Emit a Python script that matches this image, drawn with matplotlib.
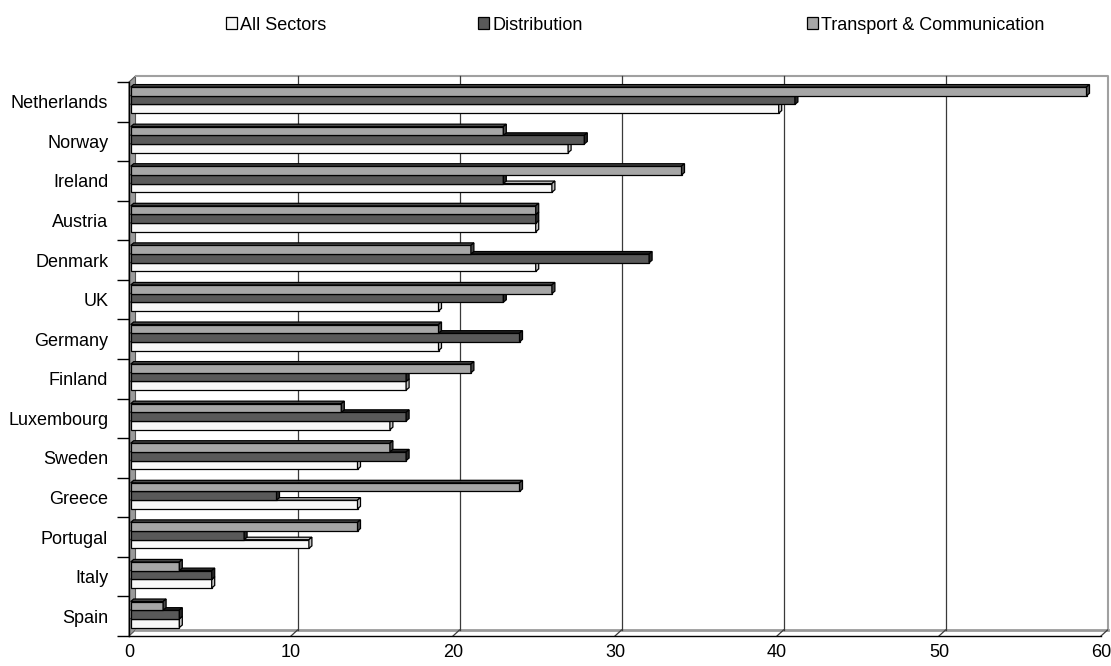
import numpy as np
import matplotlib
matplotlib.use("Agg")
import matplotlib.pyplot as plt
from matplotlib.patches import Polygon, Patch

plt.rcParams['font.family'] = ['Liberation Sans', 'DejaVu Sans']

countries = ["Netherlands", "Norway", "Ireland", "Austria", "Denmark", "UK", "Germany",
             "Finland", "Luxembourg", "Sweden", "Greece", "Portugal", "Italy", "Spain"]
all_sectors = [40, 27, 26, 25, 25, 19, 19, 17, 16, 14, 14, 11, 5, 3]
distribution = [41, 28, 23, 25, 32, 23, 24, 17, 17, 17, 9, 7, 5, 3]
transport = [59, 23, 34, 25, 21, 26, 19, 21, 13, 16, 24, 14, 3, 2]

series = [
    ("All Sectors", all_sectors, "#f8f8f8", "#c4c4c4"),
    ("Distribution", distribution, "#595959", "#262626"),
    ("Transport & Communication", transport, "#a6a6a6", "#4a4a4a"),
]

W, H = 1111, 666
fig = plt.figure(figsize=(W / 100, H / 100), dpi=100)
# front plane of the 3d box
ax = fig.add_axes([129 / W, 30 / H, 972 / W, 554 / H])
xmax = 60
n = len(countries)
ax.set_xlim(0, xmax)
ax.set_ylim(-0.5, n - 0.5)

px_x = 972 / xmax          # pixels per x unit
px_y = 554 / n             # pixels per category
wdx, wdy = 6.5 / px_x, 6.0 / px_y      # wall depth
ox, oy = 1.7 / px_x, 1.7 / px_y        # bar front face offset
bdx, bdy = 3.0 / px_x, 2.5 / px_y      # bar depth
h = 0.219

y0, y1 = -0.5, n - 0.5

# left wall and floor
ax.add_patch(Polygon([(0, y0), (0, y1), (wdx, y1 + wdy), (wdx, y0 + wdy)],
                     closed=True, facecolor="#9a9a9a", edgecolor="#555555",
                     lw=0.8, clip_on=False, zorder=1))
ax.plot([wdx, xmax + wdx], [y0 + wdy, y0 + wdy], color="#9a9a9a", lw=2.0,
        clip_on=False, zorder=1)
# back wall border
ax.plot([wdx, xmax + wdx, xmax + wdx], [y1 + wdy, y1 + wdy, y0 + wdy],
        color="#a0a0a0", lw=1.5, clip_on=False, zorder=1)

# gridlines on the back wall, with the slanted floor joins
for gx in range(10, xmax + 1, 10):
    if gx < xmax:
        ax.plot([gx + wdx, gx + wdx], [y0 + wdy, y1 + wdy], color="#3a3a3a",
                lw=0.9, clip_on=False, zorder=1.5)
    ax.plot([gx, gx + wdx], [y0, y0 + wdy], color="#3a3a3a", lw=0.9,
            clip_on=False, zorder=1.5)

ypos = np.arange(n)[::-1]

# bars: bottom one first so upper bars hide its top face
for k, (name, vals, face, shade) in enumerate(series):
    yb = ypos - 1.5 * h + k * h + oy
    ax.barh(yb, vals, height=h, left=ox, align="edge", color=face,
            edgecolor="black", lw=0.9, zorder=3 + k)
    for v, b in zip(vals, yb):
        t = b + h
        top = [(ox, t), (ox + bdx, t + bdy), (v + ox + bdx, t + bdy), (v + ox, t)]
        side = [(v + ox, b), (v + ox + bdx, b + bdy), (v + ox + bdx, t + bdy), (v + ox, t)]
        ax.add_patch(Polygon(top, closed=True, facecolor=shade, edgecolor="black",
                             lw=0.9, zorder=3 + k, clip_on=False))
        ax.add_patch(Polygon(side, closed=True, facecolor=shade, edgecolor="black",
                             lw=0.9, zorder=3 + k, clip_on=False))

for s in ["top", "right"]:
    ax.spines[s].set_visible(False)
for s in ["left", "bottom"]:
    ax.spines[s].set_color("black")
    ax.spines[s].set_linewidth(1.0)
    ax.spines[s].set_zorder(2)

ax.set_xticks(range(0, xmax + 1, 10))
ax.tick_params(axis="x", length=0, pad=6, labelsize=13)
ax.set_yticks(np.arange(-0.5, n, 1.0))
ax.set_yticklabels([])
ax.set_yticks(ypos, minor=True)
ax.set_yticklabels(countries, minor=True)
ax.tick_params(axis="y", which="major", length=9, width=1.0, direction="out")
ax.tick_params(axis="y", which="minor", length=0, pad=15, labelsize=13)

# legend across the top
leg_x = [226, 478, 807]
for (name, vals, face, shade), lx in zip(series, leg_x):
    fig.legend(handles=[Patch(facecolor=face, edgecolor="black", lw=0.9)],
               labels=[name], loc="center left", bbox_to_anchor=(lx / W, 1 - 25 / H),
               frameon=False, fontsize=13, handlelength=0.6, handleheight=0.6,
               handletextpad=0.2, borderpad=0, borderaxespad=0)

fig.savefig("out.png", dpi=100)
